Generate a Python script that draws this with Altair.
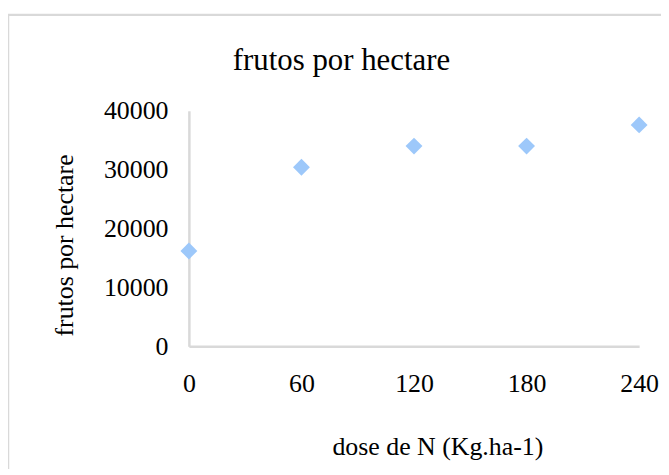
import altair as alt
import pandas as pd

doses = [0, 60, 120, 180, 240]
frutos = [16200, 30400, 34000, 34000, 37600]
x_ticks = [0, 60, 120, 180, 240]
y_ticks = [0, 10000, 20000, 30000, 40000]

df = pd.DataFrame({"dose": doses, "frutos": frutos})

FONT = "Liberation Serif"
GRAY = "#d9d9d9"

border = alt.Chart(pd.DataFrame({"a": [0]})).mark_rect(
    fillOpacity=0, stroke=GRAY, strokeWidth=2.5
).encode(
    x=alt.value(-182), x2=alt.value(700),
    y=alt.value(-96.5), y2=alt.value(600),
)

points = alt.Chart(df).mark_point(
    shape="diamond", filled=True, size=289, color="#9DC8FA", opacity=1
).encode(
    x=alt.X("dose:Q", scale=alt.Scale(domain=[0, 240], nice=False, zero=False),
            axis=alt.Axis(values=x_ticks, title="dose de N (Kg.ha-1)", grid=False, ticks=False,
                          domainColor=GRAY, domainWidth=2.5, labelFont=FONT, labelFontSize=26,
                          labelColor="black", labelPadding=24, labelFlush=False, labelOverlap=False,
                          titleFont=FONT, titleFontSize=26, titleFontWeight="normal",
                          titleColor="black", titleX=250, titleY=109, titleAlign="center",
                          titleBaseline="alphabetic")),
    y=alt.Y("frutos:Q", scale=alt.Scale(domain=[0, 40000], nice=False),
            axis=alt.Axis(values=y_ticks, format="d", title="frutos por hectare", grid=False,
                          ticks=False, domainColor=GRAY, domainWidth=2.5, labelFont=FONT,
                          labelFontSize=26, labelColor="black", labelPadding=21, labelFlush=False,
                          labelOverlap=False, titleFont=FONT, titleFontSize=26,
                          titleFontWeight="normal", titleColor="black", titleAngle=270,
                          titleX=-117, titleY=135, titleAlign="center",
                          titleBaseline="alphabetic")),
)

chart = alt.layer(border, points).properties(
    width=453, height=237,
    padding={"left": 182, "top": 102, "right": 22, "bottom": 122},
    autosize=alt.AutoSizeParams(type="none"),
    title=alt.TitleParams("frutos por hectare", font=FONT, fontSize=31, fontWeight="normal",
                          color="black", anchor="middle", dx=-73, dy=88, baseline="alphabetic",
                          offset=0, frame="group"),
).configure_view(stroke=None)

chart.save("out.html", embed_options={"renderer": "svg", "actions": False})
